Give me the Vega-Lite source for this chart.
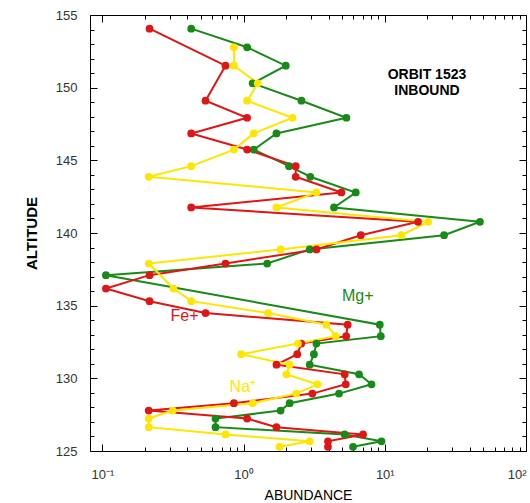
{
  "$schema": "https://vega.github.io/schema/vega-lite/v6.json",
  "width": 436,
  "height": 436,
  "autosize": {"type": "none"},
  "padding": {"left": 90, "top": 15, "right": 4, "bottom": 52},
  "background": "white",
  "config": {
    "view": {"stroke": "black", "strokeWidth": 1},
    "font": "Liberation Sans",
    "axis": {"grid": false, "domain": false, "tickColor": "black", "labelColor": "#333333", "labelFont": "Liberation Sans", "titleFont": "Liberation Sans", "labelFontSize": 13, "titleColor": "black"}
  },
  "datasets": {
    "ions": [
      {"ion": "Mg+", "alt": 154.06, "abundance": 0.426},
      {"ion": "Mg+", "alt": 152.78, "abundance": 1.06},
      {"ion": "Mg+", "alt": 151.51, "abundance": 1.99},
      {"ion": "Mg+", "alt": 150.30, "abundance": 1.16},
      {"ion": "Mg+", "alt": 149.10, "abundance": 2.57},
      {"ion": "Mg+", "alt": 147.93, "abundance": 5.35},
      {"ion": "Mg+", "alt": 146.85, "abundance": 1.71},
      {"ion": "Mg+", "alt": 145.74, "abundance": 1.18},
      {"ion": "Mg+", "alt": 144.60, "abundance": 2.10},
      {"ion": "Mg+", "alt": 143.87, "abundance": 2.97},
      {"ion": "Mg+", "alt": 142.79, "abundance": 6.23},
      {"ion": "Mg+", "alt": 141.76, "abundance": 4.37},
      {"ion": "Mg+", "alt": 140.77, "abundance": 47.2},
      {"ion": "Mg+", "alt": 139.85, "abundance": 26.3},
      {"ion": "Mg+", "alt": 138.87, "abundance": 2.94},
      {"ion": "Mg+", "alt": 137.90, "abundance": 1.47},
      {"ion": "Mg+", "alt": 137.10, "abundance": 0.106},
      {"ion": "Mg+", "alt": 133.69, "abundance": 9.22},
      {"ion": "Mg+", "alt": 132.90, "abundance": 9.37},
      {"ion": "Mg+", "alt": 132.39, "abundance": 3.28},
      {"ion": "Mg+", "alt": 131.66, "abundance": 3.15},
      {"ion": "Mg+", "alt": 130.94, "abundance": 2.94},
      {"ion": "Mg+", "alt": 130.28, "abundance": 6.57},
      {"ion": "Mg+", "alt": 129.59, "abundance": 8.05},
      {"ion": "Mg+", "alt": 128.95, "abundance": 4.74},
      {"ion": "Mg+", "alt": 128.29, "abundance": 2.12},
      {"ion": "Mg+", "alt": 127.78, "abundance": 1.83},
      {"ion": "Mg+", "alt": 127.23, "abundance": 0.633},
      {"ion": "Mg+", "alt": 126.64, "abundance": 0.633},
      {"ion": "Mg+", "alt": 126.14, "abundance": 5.20},
      {"ion": "Mg+", "alt": 125.67, "abundance": 9.48},
      {"ion": "Mg+", "alt": 125.29, "abundance": 5.96},
      {"ion": "Fe+", "alt": 154.06, "abundance": 0.216},
      {"ion": "Fe+", "alt": 151.51, "abundance": 0.745},
      {"ion": "Fe+", "alt": 149.10, "abundance": 0.538},
      {"ion": "Fe+", "alt": 147.93, "abundance": 1.06},
      {"ion": "Fe+", "alt": 146.85, "abundance": 0.426},
      {"ion": "Fe+", "alt": 145.74, "abundance": 1.06},
      {"ion": "Fe+", "alt": 144.60, "abundance": 2.34},
      {"ion": "Fe+", "alt": 143.87, "abundance": 2.34},
      {"ion": "Fe+", "alt": 142.79, "abundance": 4.93},
      {"ion": "Fe+", "alt": 141.76, "abundance": 0.426},
      {"ion": "Fe+", "alt": 140.77, "abundance": 17.2},
      {"ion": "Fe+", "alt": 139.85, "abundance": 6.76},
      {"ion": "Fe+", "alt": 138.87, "abundance": 3.28},
      {"ion": "Fe+", "alt": 137.90, "abundance": 0.745},
      {"ion": "Fe+", "alt": 137.10, "abundance": 0.216},
      {"ion": "Fe+", "alt": 136.18, "abundance": 0.106},
      {"ion": "Fe+", "alt": 135.31, "abundance": 0.216},
      {"ion": "Fe+", "alt": 134.49, "abundance": 0.538},
      {"ion": "Fe+", "alt": 133.69, "abundance": 5.46},
      {"ion": "Fe+", "alt": 132.90, "abundance": 5.33},
      {"ion": "Fe+", "alt": 132.39, "abundance": 2.56},
      {"ion": "Fe+", "alt": 131.66, "abundance": 2.40},
      {"ion": "Fe+", "alt": 130.94, "abundance": 1.71},
      {"ion": "Fe+", "alt": 130.28, "abundance": 5.20},
      {"ion": "Fe+", "alt": 129.59, "abundance": 5.29},
      {"ion": "Fe+", "alt": 128.95, "abundance": 3.07},
      {"ion": "Fe+", "alt": 128.29, "abundance": 0.854},
      {"ion": "Fe+", "alt": 127.78, "abundance": 0.213},
      {"ion": "Fe+", "alt": 127.23, "abundance": 1.06},
      {"ion": "Fe+", "alt": 126.64, "abundance": 1.71},
      {"ion": "Fe+", "alt": 126.14, "abundance": 7.02},
      {"ion": "Fe+", "alt": 125.67, "abundance": 3.96},
      {"ion": "Fe+", "alt": 125.29, "abundance": 3.96},
      {"ion": "Na+", "alt": 152.78, "abundance": 0.854},
      {"ion": "Na+", "alt": 151.51, "abundance": 0.854},
      {"ion": "Na+", "alt": 150.30, "abundance": 1.26},
      {"ion": "Na+", "alt": 149.10, "abundance": 1.06},
      {"ion": "Na+", "alt": 147.93, "abundance": 2.22},
      {"ion": "Na+", "alt": 146.85, "abundance": 1.18},
      {"ion": "Na+", "alt": 145.74, "abundance": 0.854},
      {"ion": "Na+", "alt": 144.60, "abundance": 0.426},
      {"ion": "Na+", "alt": 143.87, "abundance": 0.213},
      {"ion": "Na+", "alt": 142.79, "abundance": 3.28},
      {"ion": "Na+", "alt": 141.76, "abundance": 1.71},
      {"ion": "Na+", "alt": 140.77, "abundance": 20.3},
      {"ion": "Na+", "alt": 139.85, "abundance": 13.1},
      {"ion": "Na+", "alt": 138.87, "abundance": 1.83},
      {"ion": "Na+", "alt": 137.90, "abundance": 0.213},
      {"ion": "Na+", "alt": 136.18, "abundance": 0.319},
      {"ion": "Na+", "alt": 135.31, "abundance": 0.426},
      {"ion": "Na+", "alt": 134.49, "abundance": 1.49},
      {"ion": "Na+", "alt": 133.69, "abundance": 3.86},
      {"ion": "Na+", "alt": 132.90, "abundance": 4.49},
      {"ion": "Na+", "alt": 132.39, "abundance": 2.43},
      {"ion": "Na+", "alt": 131.66, "abundance": 0.963},
      {"ion": "Na+", "alt": 130.94, "abundance": 2.12},
      {"ion": "Na+", "alt": 130.28, "abundance": 2.01},
      {"ion": "Na+", "alt": 129.59, "abundance": 3.33},
      {"ion": "Na+", "alt": 128.95, "abundance": 2.36},
      {"ion": "Na+", "alt": 128.29, "abundance": 1.16},
      {"ion": "Na+", "alt": 127.78, "abundance": 0.315},
      {"ion": "Na+", "alt": 127.23, "abundance": 0.213},
      {"ion": "Na+", "alt": 126.64, "abundance": 0.213},
      {"ion": "Na+", "alt": 126.14, "abundance": 0.745},
      {"ion": "Na+", "alt": 125.67, "abundance": 2.94},
      {"ion": "Na+", "alt": 125.29, "abundance": 1.80}
    ],
    "labels": [
      {"ion": "Mg+", "label": "Mg+", "alt": 135.65, "abundance": 6.44},
      {"ion": "Fe+", "label": "Fe+", "alt": 134.27, "abundance": 0.382},
      {"ion": "Na+", "label": "Na⁺", "alt": 129.39, "abundance": 0.98}
    ],
    "heading": [
      {"label": "ORBIT 1523|INBOUND", "alt": 150.87, "abundance": 19.9}
    ]
  },
  "layer": [
    {
      "data": {"name": "ions"},
      "mark": {"type": "line", "strokeWidth": 2},
      "encoding": {
        "x": {"field": "abundance", "type": "quantitative",
          "scale": {"type": "log", "domain": [0.0818, 100], "nice": false},
          "axis": {"orient": "bottom", "values": [0.1, 1, 10, 100], "tickSize": -7, "labelPadding": 24,
            "labelExpr": "datum.value < 0.5 ? '10⁻¹' : datum.value < 5 ? '10⁰' : datum.value < 50 ? '10¹' : '10²'",
            "title": "ABUNDANCE", "titleFontSize": 14, "titleFontWeight": "normal", "titlePadding": 7}},
        "y": {"field": "alt", "type": "quantitative",
          "scale": {"domain": [125, 155], "nice": false, "zero": false},
          "axis": {"orient": "left", "values": [125, 130, 135, 140, 145, 150, 155], "tickSize": -7, "labelPadding": 20,
            "title": "ALTITUDE", "titleFontSize": 15, "titleFontWeight": "bold", "titlePadding": 16}},
        "color": {"field": "ion", "type": "nominal",
          "scale": {"domain": ["Fe+", "Mg+", "Na+"], "range": ["#e01515", "#178a17", "#ffe600"]}, "legend": null},
        "order": {"field": "alt", "type": "quantitative"}
      }
    },
    {
      "data": {"name": "ions"},
      "mark": {"type": "circle", "size": 60, "opacity": 1},
      "encoding": {
        "x": {"field": "abundance", "type": "quantitative",
          "scale": {"type": "log", "domain": [0.0818, 100], "nice": false},
          "axis": {"orient": "bottom", "values": [0.2, 0.3, 0.4, 0.5, 0.6, 0.7, 0.8, 0.9, 2, 3, 4, 5, 6, 7, 8, 9, 20, 30, 40, 50, 60, 70, 80, 90], "tickSize": -4, "labels": false, "title": null}},
        "y": {"field": "alt", "type": "quantitative",
          "scale": {"domain": [125, 155], "nice": false, "zero": false},
          "axis": {"orient": "left", "values": [126, 127, 128, 129, 131, 132, 133, 134, 136, 137, 138, 139, 141, 142, 143, 144, 146, 147, 148, 149, 151, 152, 153, 154], "tickSize": -4, "labels": false, "title": null}},
        "color": {"field": "ion", "type": "nominal", "legend": null}
      }
    },
    {
      "data": {"name": "labels"},
      "mark": {"type": "text", "fontSize": 16, "align": "center", "baseline": "middle"},
      "encoding": {
        "text": {"field": "label"},
        "x": {"field": "abundance", "type": "quantitative",
          "scale": {"type": "log", "domain": [0.0818, 100], "nice": false},
          "axis": {"orient": "top", "values": [0.1, 1, 10, 100], "tickSize": -7, "labels": false, "title": null}},
        "y": {"field": "alt", "type": "quantitative",
          "scale": {"domain": [125, 155], "nice": false, "zero": false},
          "axis": {"orient": "right", "values": [125, 130, 135, 140, 145, 150, 155], "tickSize": -7, "labels": false, "title": null}},
        "color": {"field": "ion", "type": "nominal", "legend": null}
      }
    },
    {
      "data": {"name": "heading"},
      "mark": {"type": "text", "fontSize": 14, "fontWeight": "bold", "align": "center", "baseline": "middle", "lineBreak": "|", "lineHeight": 16, "color": "black"},
      "encoding": {
        "text": {"field": "label"},
        "x": {"field": "abundance", "type": "quantitative",
          "scale": {"type": "log", "domain": [0.0818, 100], "nice": false},
          "axis": {"orient": "top", "values": [0.2, 0.3, 0.4, 0.5, 0.6, 0.7, 0.8, 0.9, 2, 3, 4, 5, 6, 7, 8, 9, 20, 30, 40, 50, 60, 70, 80, 90], "tickSize": -4, "labels": false, "title": null}},
        "y": {"field": "alt", "type": "quantitative",
          "scale": {"domain": [125, 155], "nice": false, "zero": false},
          "axis": {"orient": "right", "values": [126, 127, 128, 129, 131, 132, 133, 134, 136, 137, 138, 139, 141, 142, 143, 144, 146, 147, 148, 149, 151, 152, 153, 154], "tickSize": -4, "labels": false, "title": null}}
      }
    }
  ],
  "resolve": {"axis": {"x": "independent", "y": "independent"}}
}
